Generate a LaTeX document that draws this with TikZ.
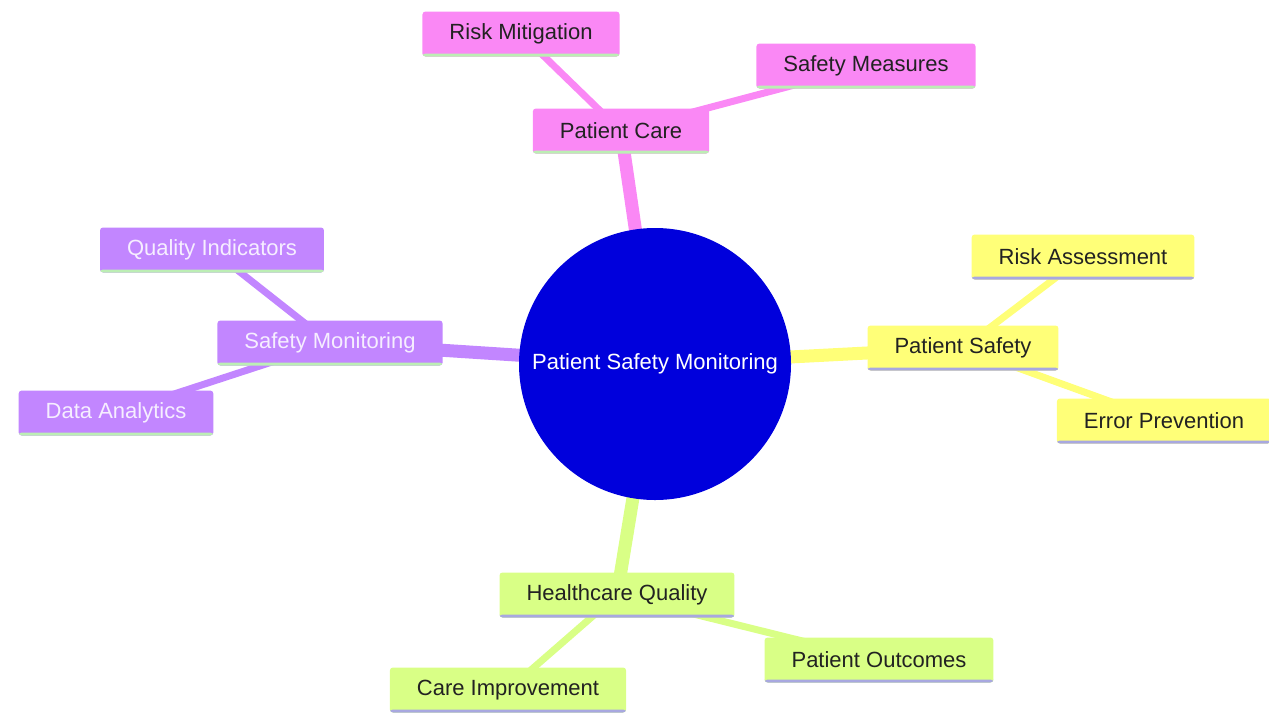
\documentclass[tikz,border=0pt]{standalone}
\usepackage{fontspec}
\setmainfont{Liberation Sans}
\usetikzlibrary{backgrounds}
\definecolor{rootc}{HTML}{0000DC}
\definecolor{yel}{HTML}{FFFF78}
\definecolor{grn}{HTML}{D9FF86}
\definecolor{pur}{HTML}{C286FF}
\definecolor{pnk}{HTML}{FA88F5}
\definecolor{ulg}{HTML}{BCEEB4}
\definecolor{ulb}{HTML}{A8A8E0}
\definecolor{darktxt}{HTML}{222222}
\definecolor{lighttxt}{HTML}{F6EEFF}
\tikzset{
  leaf/.style={rounded corners=3pt, inner xsep=27pt, inner ysep=0pt, minimum height=45pt,
    font=\fontsize{22}{26}\selectfont, text=darktxt},
  ulgreen/.style={path picture={\fill[ulg] ([yshift=3pt]path picture bounding box.south west) rectangle (path picture bounding box.south east);}},
  ulblue/.style={path picture={\fill[ulb] ([yshift=3pt]path picture bounding box.south west) rectangle (path picture bounding box.south east);}},
  pinknode/.style={leaf, fill=pnk, ulgreen},
  yelnode/.style={leaf, fill=yel, ulblue},
  purnode/.style={leaf, fill=pur, ulgreen, text=lighttxt},
  grnnode/.style={leaf, fill=grn, ulblue},
  mainedge/.style={line width=13pt},
  subedge/.style={line width=7pt},
}
\begin{document}
\begin{tikzpicture}[x=1pt,y=-1pt]
\useasboundingbox (0,0) rectangle (1269,713);
\node[circle, fill=rootc, minimum size=272pt, inner sep=0pt, text=white,
  font=\fontsize{22}{26}\selectfont] (root) at (655,364) {Patient Safety Monitoring};

\node[pinknode] (pc) at (621,131) {Patient Care};
\node[pinknode] (rm) at (521,34) {Risk Mitigation};
\node[pinknode] (sm) at (866,66) {Safety Measures};

\node[yelnode] (ps) at (963,348) {Patient Safety};
\node[yelnode] (ra) at (1083,257) {Risk Assessment};
\node[yelnode] (ep) at (1164,421) {Error Prevention};

\node[purnode] (smon) at (330,343) {Safety Monitoring};
\node[purnode] (qi) at (212,250) {Quality Indicators};
\node[purnode] (da) at (116,413) {Data Analytics};

\node[grnnode] (hq) at (617,595) {Healthcare Quality};
\node[grnnode] (ci) at (508,690) {Care Improvement};
\node[grnnode] (po) at (879,660) {Patient Outcomes};

\begin{scope}[on background layer]
  \draw[mainedge, pnk] (root.center) -- (pc.center);
  \draw[mainedge, yel] (root.center) -- (ps.center);
  \draw[mainedge, pur] (root.center) -- (smon.center);
  \draw[mainedge, grn] (root.center) -- (hq.center);
  \draw[subedge, pnk] (pc.center) -- (rm.center);
  \draw[subedge, pnk] (pc.center) -- (sm.center);
  \draw[subedge, yel] (ps.center) -- (ra.center);
  \draw[subedge, yel] (ps.center) -- (ep.center);
  \draw[subedge, pur] (smon.center) -- (qi.center);
  \draw[subedge, pur] (smon.center) -- (da.center);
  \draw[subedge, grn] (hq.center) -- (ci.center);
  \draw[subedge, grn] (hq.center) -- (po.center);
\end{scope}
\end{tikzpicture}
\end{document}
